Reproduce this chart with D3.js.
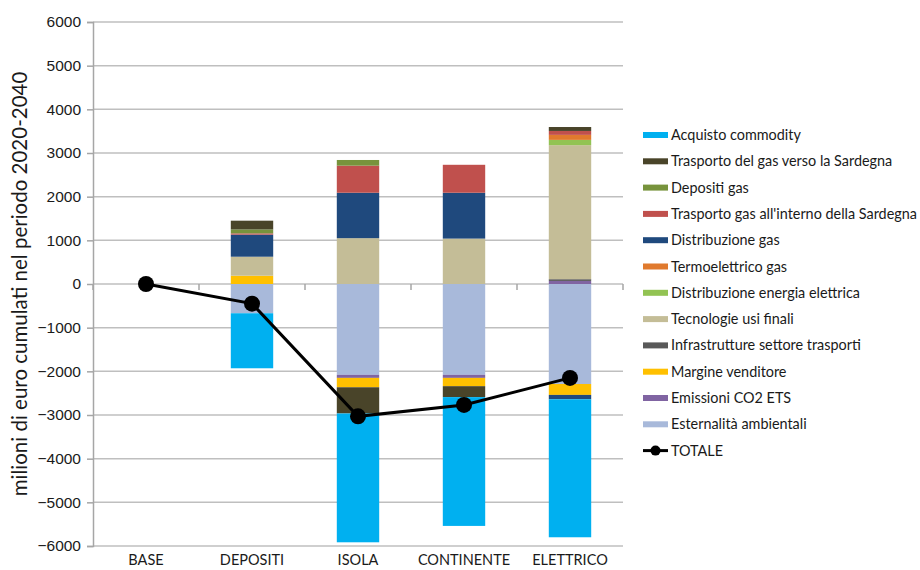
<!DOCTYPE html>
<html>
<head>
<meta charset="utf-8">
<script src="https://cdn.jsdelivr.net/npm/d3@7"></script>
<style>
  html, body { margin: 0; padding: 0; background: #fff; }
  svg { display: block; font-family: Lato, "Open Sans", sans-serif; }
</style>
</head>
<body>
<svg id="chart" width="920" height="570"></svg>
<script>
// Scenarios on the x axis
const categories = ["BASE", "DEPOSITI", "ISOLA", "CONTINENTE", "ELETTRICO"];

// Cost components, milioni di euro cumulati 2020-2040, one value per scenario
const acquistoCommodity       = [0, -1260, -2950, -2950, -3160];
const trasportoVersoSardegna  = [0,   200,  -600,  -250,    90];
const depositiGas             = [0,    90,   130,     0,     0];
const trasportoInternoSardegna= [0,    30,   620,   640,    90];
const distribuzioneGas        = [0,   505,  1040,  1050,  -100];
const termoelettricoGas       = [0,     0,     0,     0,   115];
const distribuzioneEnergiaEl  = [0,     0,     0,     0,   120];
const tecnologieUsiFinali     = [0,   435,  1050,  1040,  3070];
const infrastruttureTrasporti = [0,     0,     0,     0,    40];
const margineVenditore        = [0,   190,  -215,  -190,  -250];
const emissioniCO2            = [0,     0,   -70,   -70,    70];
const esternalitaAmbientali   = [0,  -670, -2080, -2080, -2290];
const totale                  = [0,  -450, -3030, -2770, -2150];

const yTicks = [6000, 5000, 4000, 3000, 2000, 1000, 0, -1000, -2000, -3000, -4000, -5000, -6000];

// Stack order (first series sits next to zero)
const series = [
  { key: "Esternalità ambientali", values: esternalitaAmbientali, color: "#A8B9DA" },
  { key: "Emissioni CO2 ETS", values: emissioniCO2, color: "#8064A2" },
  { key: "Margine venditore", values: margineVenditore, color: "#FFC000" },
  { key: "Infrastrutture settore trasporti", values: infrastruttureTrasporti, color: "#595959" },
  { key: "Tecnologie usi finali", values: tecnologieUsiFinali, color: "#C4BD97" },
  { key: "Distribuzione energia elettrica", values: distribuzioneEnergiaEl, color: "#92C353" },
  { key: "Termoelettrico gas", values: termoelettricoGas, color: "#E07A2E" },
  { key: "Distribuzione gas", values: distribuzioneGas, color: "#1F497D" },
  { key: "Trasporto gas all'interno della Sardegna", values: trasportoInternoSardegna, color: "#C0504D" },
  { key: "Depositi gas", values: depositiGas, color: "#77933C" },
  { key: "Trasporto del gas verso la Sardegna", values: trasportoVersoSardegna, color: "#494429" },
  { key: "Acquisto commodity", values: acquistoCommodity, color: "#00B0F0" }
];

const table = categories.map((c, i) => {
  const row = { cat: c };
  series.forEach(s => { row[s.key] = s.values[i]; });
  return row;
});

const textColor = "#1a1a1a";
const svg = d3.select("#chart");
const plot = { left: 93, right: 623, top: 22, bottom: 546 };

const x = d3.scaleBand().domain(categories)
  .range([plot.left, plot.right]).paddingInner(0.6).paddingOuter(0.3);
const y = d3.scaleLinear().domain([-6000, 6000]).range([plot.bottom, plot.top]);

// Gridlines
svg.append("g").selectAll("line").data(yTicks).join("line")
  .attr("x1", plot.left).attr("x2", plot.right)
  .attr("y1", d => y(d)).attr("y2", d => y(d))
  .attr("stroke", "#BFBFBF").attr("stroke-width", 1.5);

// Left axis
const yAxis = svg.append("g").attr("transform", `translate(${plot.left},0)`)
  .call(d3.axisLeft(y).tickValues(yTicks).tickSize(6).tickPadding(6).tickFormat(d3.format("d")));
yAxis.select(".domain").attr("stroke", "#A6A6A6").attr("stroke-width", 1.5);
yAxis.selectAll(".tick line").attr("stroke", "#A6A6A6").attr("stroke-width", 1.5);
yAxis.selectAll("text").attr("font-size", 15.5).attr("fill", textColor);

// Category boundary ticks on the zero line
const step = x.step();
const bounds = d3.range(categories.length + 1).map(i => plot.left + i * step);
svg.append("g").selectAll("line").data(bounds).join("line")
  .attr("x1", d => d).attr("x2", d => d)
  .attr("y1", y(0)).attr("y2", y(0) + 6)
  .attr("stroke", "#A6A6A6").attr("stroke-width", 1.5);

// Stacked bars
const stack = d3.stack().keys(series.map(s => s.key)).offset(d3.stackOffsetDiverging);
const stacked = stack(table);
svg.append("g").selectAll("g").data(stacked).join("g")
  .attr("fill", (d, i) => series[i].color)
  .selectAll("rect").data(d => d).join("rect")
  .attr("x", d => x(d.data.cat))
  .attr("width", x.bandwidth())
  .attr("y", d => y(Math.max(d[0], d[1])))
  .attr("height", d => Math.abs(y(d[0]) - y(d[1])));

// Category labels
svg.append("g").selectAll("text").data(categories).join("text")
  .attr("x", d => x(d) + x.bandwidth() / 2)
  .attr("y", 565)
  .attr("text-anchor", "middle")
  .attr("font-size", 14.5).attr("fill", textColor)
  .text(d => d);

// TOTALE line
const totPts = categories.map((c, i) => [x(c) + x.bandwidth() / 2, y(totale[i])]);
svg.append("path").datum(totPts)
  .attr("d", d3.line())
  .attr("fill", "none").attr("stroke", "#000").attr("stroke-width", 3);
svg.append("g").selectAll("circle").data(totPts).join("circle")
  .attr("cx", d => d[0]).attr("cy", d => d[1]).attr("r", 8).attr("fill", "#000");

// Y axis title
svg.append("text")
  .attr("transform", `translate(27,${y(0)}) rotate(-90)`)
  .attr("text-anchor", "middle")
  .attr("font-size", 20.5).attr("fill", textColor)
  .text("milioni di euro cumulati nel periodo 2020-2040");

// Legend (top entry is the last stacked series)
const legendItems = series.slice().reverse();
const lg = svg.append("g");
const ly0 = 135, lstep = 26.3;
legendItems.forEach((s, i) => {
  const yy = ly0 + i * lstep;
  lg.append("rect").attr("x", 643).attr("y", yy - 3).attr("width", 25).attr("height", 6).attr("fill", s.color);
  lg.append("text").attr("x", 671).attr("y", yy).attr("dy", "0.35em")
    .attr("font-size", 14.4).attr("fill", textColor).text(s.key);
});
const yt = ly0 + legendItems.length * lstep;
lg.append("line").attr("x1", 643).attr("x2", 668).attr("y1", yt).attr("y2", yt)
  .attr("stroke", "#000").attr("stroke-width", 3);
lg.append("circle").attr("cx", 655.5).attr("cy", yt).attr("r", 5).attr("fill", "#000");
lg.append("text").attr("x", 671).attr("y", yt).attr("dy", "0.35em")
  .attr("font-size", 14.4).attr("fill", textColor).text("TOTALE");
</script>
</body>
</html>
